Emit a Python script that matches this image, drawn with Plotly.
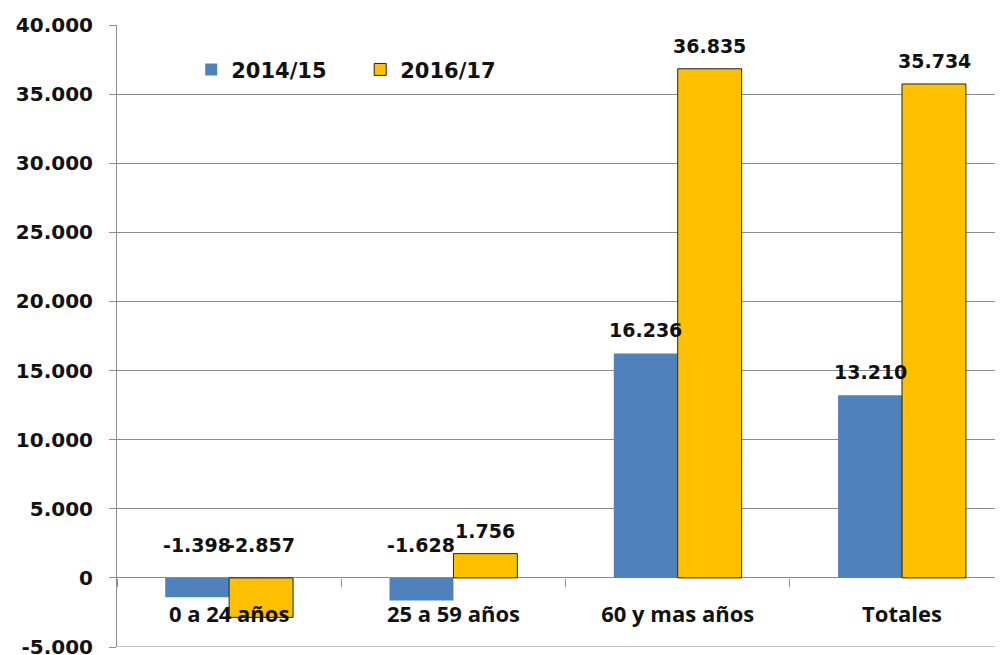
import plotly.graph_objects as go

categories = ["0 a 24 años", "25 a 59 años", "60 y mas años", "Totales"]
series_names = ["2014/15", "2016/17"]
values_2014 = [-1398, -1628, 16236, 13210]
values_2016 = [-2857, 1756, 36835, 35734]
label_2014 = ["-1.398", "-1.628", "16.236", "13.210"]
label_2016 = ["-2.857", "1.756", "36.835", "35.734"]
y_tickvals = [-5000, 0, 5000, 10000, 15000, 20000, 25000, 30000, 35000, 40000]
y_ticktext = ["-5.000", "0", "5.000", "10.000", "15.000", "20.000", "25.000", "30.000", "35.000", "40.000"]

BLUE = "#4F81BD"
YELLOW = "#FFC000"
GRID = "#8C8C8C"

fig = go.Figure()
fig.add_trace(go.Bar(x=categories, y=values_2014, name=series_names[0],
                     marker=dict(color=BLUE, line=dict(width=0))))
fig.add_trace(go.Bar(x=categories, y=values_2016, name=series_names[1],
                     marker=dict(color=YELLOW, line=dict(color="#222222", width=1))))

annotations = []
for vals, labs, shift in ((values_2014, label_2014, -32), (values_2016, label_2016, 32)):
    for c, v, t in zip(categories, vals, labs):
        annotations.append(dict(
            x=c, y=max(v, 0), xref="x", yref="y", text=t, showarrow=False,
            xshift=shift, yshift=(23 if v >= 0 else 33), yanchor="middle",
            font=dict(family="DejaVu Sans", size=19, color="#111111", weight="bold")))

# bottom gridline at the lowest tick (Excel draws it at the plot edge)
fig.add_shape(type="line", xref="paper", yref="y", x0=0, x1=1,
              y0=y_tickvals[0], y1=y_tickvals[0], line=dict(color=GRID, width=1))

fig.update_layout(
    width=1003, height=655,
    margin=dict(l=109, r=0, t=17, b=16),
    paper_bgcolor="white", plot_bgcolor="white",
    barmode="group", bargap=0.43, bargroupgap=0,
    annotations=annotations,
    legend=dict(orientation="h", x=0.083, y=0.928, xanchor="left", yanchor="middle",
                font=dict(family="DejaVu Sans", size=21, color="#111111", weight="bold"),
                bgcolor="rgba(0,0,0,0)", entrywidth=124, traceorder="normal"),
    xaxis=dict(range=[-0.5, 3.486], anchor="free", position=5000/45000,
               automargin=False,
               showline=False, showgrid=False, zeroline=False,
               ticks="outside", tickson="boundaries", ticklen=8, tickcolor=GRID,
               ticklabelstandoff=21,
               tickfont=dict(family="Open Sans", size=22, color="#111111", weight="bold")),
    yaxis=dict(range=[-5000, 40000], tickvals=y_tickvals, ticktext=y_ticktext,
               automargin=False,
               showgrid=True, gridcolor=GRID, gridwidth=1,
               zeroline=True, zerolinecolor=GRID, zerolinewidth=1,
               showline=True, linecolor=GRID, linewidth=1,
               ticks="outside", ticklen=7, tickcolor=GRID, ticklabelstandoff=12,
               tickfont=dict(family="DejaVu Sans", size=20, color="#111111", weight="bold")),
)

fig.write_html("out.html")
